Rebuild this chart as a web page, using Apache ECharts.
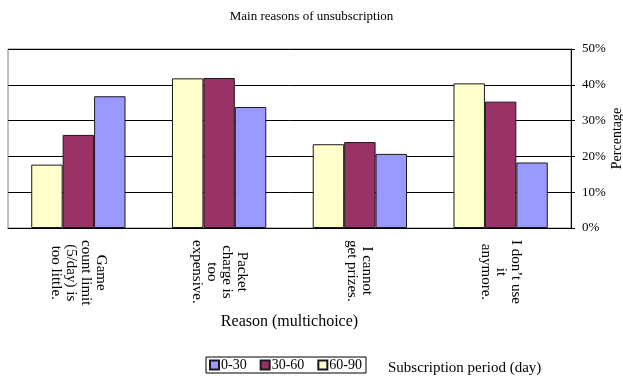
<!DOCTYPE html>
<html>
<head>
<meta charset="utf-8">
<script src="https://cdn.jsdelivr.net/npm/echarts@6/dist/echarts.min.js"></script>
<style>
  html, body { margin: 0; padding: 0; background: #fff; }
  #chart { width: 623px; height: 376px; }
</style>
</head>
<body>
<div id="chart"></div>
<script>
// Reasons given for unsubscribing, grouped by subscription period
const reasons = [
  'Game\ncount limit\n(5/day) is\ntoo little.',
  'Packet\ncharge is\ntoo\nexpensive.',
  'I cannot\nget prizes.',
  'I don\u2019t use\nit\nanymore.'
];
const period0to30 = [36.8, 33.8, 20.7, 18.3];
const period30to60 = [26.0, 41.9, 24.0, 35.3];
const period60to90 = [17.7, 41.8, 23.4, 40.4];
const percentTicks = [0, 10, 20, 30, 40, 50];

const FONT = '"Liberation Serif", "DejaVu Serif", serif';
const barBorder = { borderColor: '#1a1a1a', borderWidth: 1 };

const chart = echarts.init(document.getElementById('chart'));
chart.setOption({
  animation: false,
  textStyle: { fontFamily: FONT, color: '#000' },
  title: [
    {
      text: 'Main reasons of unsubscription',
      left: 'center', top: 5,
      textStyle: { fontFamily: FONT, fontSize: 13, fontWeight: 'normal', color: '#000' }
    },
    {
      text: 'Subscription period (day)',
      left: 383, top: 356,
      textStyle: { fontFamily: FONT, fontSize: 15, fontWeight: 'normal', color: '#000' }
    }
  ],
  legend: {
    data: ['0-30', '30-60', '60-90'],
    left: 206, top: 357,
    orient: 'horizontal',
    icon: 'rect',
    itemWidth: 9, itemHeight: 9, itemGap: 13,
    padding: [1, 4, 1, 3],
    borderColor: '#000', borderWidth: 1,
    textStyle: { fontFamily: FONT, fontSize: 14, color: '#000', padding: [0, 0, 0, -3] }
  },
  grid: {
    left: 8, right: 52, top: 49, bottom: 148,
    outerBoundsMode: 'none',
    show: true, borderColor: '#808080', borderWidth: 1
  },
  xAxis: {
    type: 'category',
    data: reasons,
    name: 'Reason (multichoice)',
    nameLocation: 'middle',
    nameGap: 86,
    nameMoveOverlap: false,
    nameTextStyle: { fontFamily: FONT, fontSize: 16, color: '#000', verticalAlign: 'top' },
    axisLine: { lineStyle: { color: '#000', width: 1 } },
    axisTick: { inside: true, length: 5, lineStyle: { color: '#000' } },
    axisLabel: {
      rotate: -90,
      margin: 12,
      interval: 0,
      // each line is centred within its label block
      formatter: v => v.split('\n').map(l => '{c|' + l + '}').join('\n'),
      rich: { c: { align: 'center', fontFamily: FONT, fontSize: 15, lineHeight: 15, color: '#000' } }
    }
  },
  yAxis: {
    type: 'value',
    position: 'right',
    min: percentTicks[0], max: percentTicks[percentTicks.length - 1], interval: 10,
    name: 'Percentage',
    nameLocation: 'middle',
    nameRotate: 90,
    nameGap: 39,
    nameMoveOverlap: false,
    nameTextStyle: { fontFamily: FONT, fontSize: 14, color: '#000' },
    axisLine: { show: true, lineStyle: { color: '#000', width: 1 } },
    axisTick: { show: true, length: 4, lineStyle: { color: '#000' } },
    axisLabel: { formatter: '{value}%', margin: 11, fontFamily: FONT, fontSize: 13, color: '#000' },
    splitLine: { lineStyle: { color: '#000', width: 1 } }
  },
  series: [
    { name: '60-90', type: 'bar', data: period60to90, barGap: '0%', barCategoryGap: '33%',
      itemStyle: Object.assign({ color: '#FFFFCC' }, barBorder) },
    { name: '30-60', type: 'bar', data: period30to60, barGap: '0%', barCategoryGap: '33%',
      itemStyle: Object.assign({ color: '#993366' }, barBorder) },
    { name: '0-30', type: 'bar', data: period0to30, barGap: '0%', barCategoryGap: '33%',
      itemStyle: Object.assign({ color: '#9999FF' }, barBorder) }
  ]
});
</script>
</body>
</html>
